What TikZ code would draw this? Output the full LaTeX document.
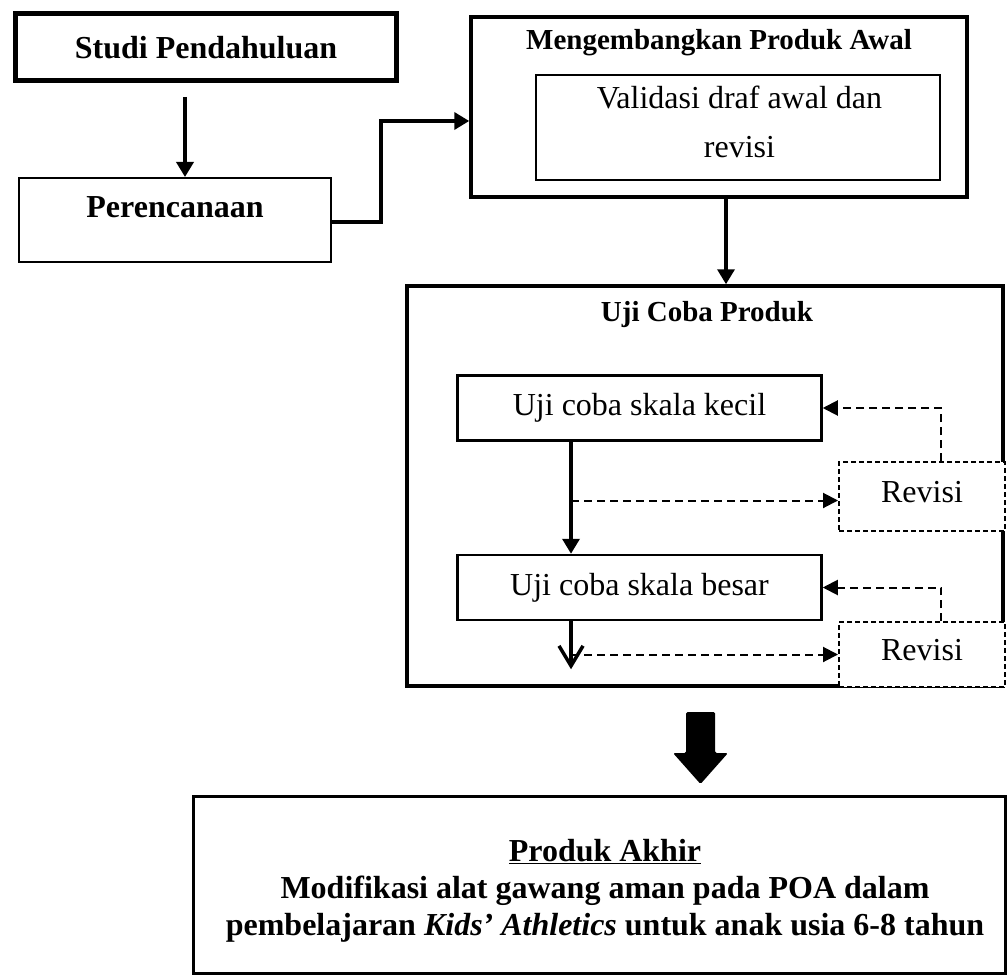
\documentclass[tikz,border=0pt]{standalone}
\usepackage{fontspec}
\setmainfont{Liberation Serif}
\usetikzlibrary{positioning,arrows.meta}
\newcommand{\bigtxt}{\fontsize{32}{38}\selectfont}
\newcommand{\midtxt}{\fontsize{29}{35}\selectfont}

\begin{document}
\begin{tikzpicture}[x=1pt, y=1pt,
      box/.style={draw, line width=2.5pt, inner sep=0pt, font=\bigtxt},
      ujibox/.style={box, minimum width=364pt, minimum height=65pt},
      revbox/.style={draw, fill=white, line width=2pt, dash pattern=on 5pt off 3pt,
                     inner sep=0pt, font=\bigtxt, text depth=9pt, minimum width=166pt},
      arr/.style={-{Triangle[width=17pt,length=15pt]}, line width=3.5pt},
      darr/.style={-{Triangle[width=15pt,length=15pt]}, line width=2pt, dash pattern=on 8pt off 5pt},
      barb/.style={-{Straight Barb[width=24pt,length=20pt]}, line width=3.5pt}]
    \useasboundingbox (0,0) rectangle (1008,-976);
    \node[box, line width=5pt, minimum width=381pt, minimum height=67pt] (studi) at (206,-47.5)
      {\textbf{Studi Pendahuluan}};
    \node[box, line width=2pt, minimum width=312pt, minimum height=84pt, text depth=25pt] (perenc)
      at (175,-220) {\textbf{Perencanaan}};
    \node[box, line width=3.5pt, minimum width=496pt, minimum height=180pt] (mpa) at (719,-107) {};
    \node[font=\midtxt\bfseries] (mpatitle) at (719,-43) {Mengembangkan Produk Awal};
    \node[box, line width=2pt, minimum width=404pt, minimum height=105pt] (valbox) at (738,-127.5) {};
    \node[font=\fontsize{32}{49}\selectfont, align=center] (valtxt) at (739.5,-121.5)
      {Validasi draf awal dan\\revisi};
    \node[box, line width=3.5pt, minimum width=596pt, minimum height=400pt] (uji) at (705,-486) {};
    \node[font=\midtxt\bfseries] (ujititle) at (707,-315) {Uji Coba Produk};
    \node[ujibox] (kecil) at (639.5,-408) {Uji coba skala kecil};
    \node[ujibox, below=112pt of kecil] (besar) {Uji coba skala besar};
    \node[revbox, minimum height=69pt] (rev1) at (922,-496.5) {Revisi};
    \node[revbox, minimum height=65pt] (rev2) at (922,-654.5) {Revisi};
    \node[box, line width=3pt, minimum width=812pt, minimum height=177pt] (akhir) at (599.5,-885) {};
    \node[font=\fontsize{32}{37}\selectfont\bfseries, align=center] (akhirtxt) at (605,-891)
      {\underline{Produk Akhir}\\
       Modifikasi alat gawang aman pada POA dalam\\
       pembelajaran \textit{Kids’ Athletics} untuk anak usia 6-8 tahun};
    \coordinate (trunka) at ([xshift=-68.5pt]kecil.south);
    \coordinate (trunkb) at ([xshift=-68.5pt]besar.south);
    \coordinate (tail) at ([yshift=-48pt]trunkb);
    \coordinate (rev1in) at ([yshift=-4pt]rev1.west);
    \draw[arr] ([xshift=-21pt,yshift=-13.5pt]studi.south) -- ([xshift=10pt]perenc.north);
    \draw[arr] ([yshift=-2pt]perenc.east) -- ++(49,0) |- ([yshift=-14pt]mpa.west);
    \draw[arr] ([xshift=7pt]mpa.south) -- ([xshift=21pt]uji.north);
    \draw[arr] (trunka) -- (trunka |- besar.north);
    \draw[darr] (trunka |- rev1in) -- (rev1in);
    \draw[darr] ([xshift=19pt]rev1.north) |- (kecil.east);
    \draw[barb] (trunkb) -- (tail);
    \draw[darr] (tail |- rev2.west) -- (rev2.west);
    \draw[darr] ([xshift=19pt]rev2.north) |- (besar.east);
    \fill[rounded corners=1.5pt] (686,-712) -- (715,-712) -- (715,-753) -- (728,-753)
      -- (700.5,-784) -- (673,-753) -- (686,-753) -- cycle;
  \end{tikzpicture}
\end{document}
